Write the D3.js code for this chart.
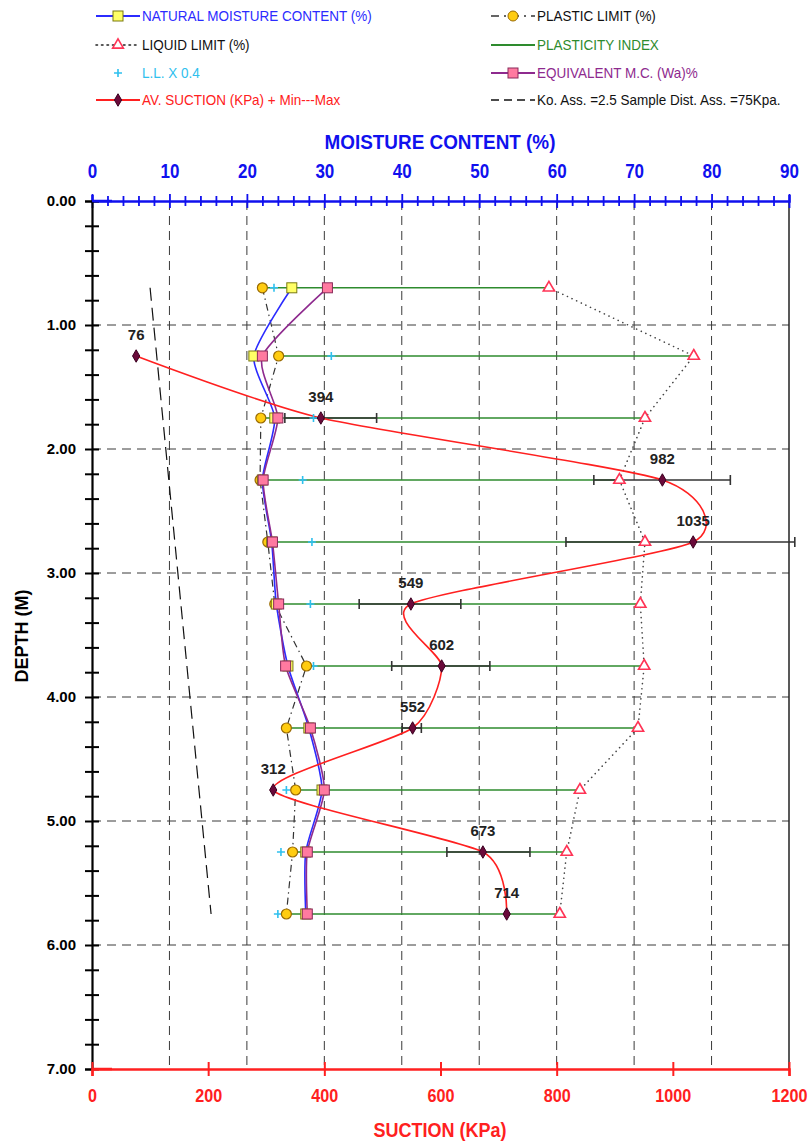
<!DOCTYPE html>
<html>
<head>
<meta charset="utf-8">
<script src="https://cdn.jsdelivr.net/npm/d3@7/dist/d3.min.js"></script>
<style>
  html, body { margin: 0; padding: 0; background: #fff; }
  svg { display: block; }
  text { font-family: "Liberation Sans", Arial, sans-serif; }
</style>
</head>
<body>
<svg id="chart" width="811" height="1142"></svg>
<script>
// ---- data ----
const depths = [0.7, 1.25, 1.75, 2.25, 2.75, 3.25, 3.75, 4.25, 4.75, 5.25, 5.75];
const naturalMC = [25.8, 20.9, 23.6, 22.0, 23.2, 23.8, 25.3, 28.0, 29.7, 27.6, 27.6];
const plasticLimit = [22.0, 24.1, 21.8, 21.7, 22.7, 23.6, 27.7, 25.1, 26.3, 25.9, 25.1];
const liquidLimit = [59.0, 77.7, 71.4, 68.1, 71.4, 70.8, 71.3, 70.5, 63.0, 61.3, 60.4];
const llTimes04 = [23.5, 30.9, 28.6, 27.2, 28.4, 28.2, 28.6, 28.2, 25.1, 24.4, 24.0];
const equivalentMC = [30.4, 22.0, 24.0, 22.1, 23.3, 24.1, 25.0, 28.2, 30.0, 27.8, 27.8];

const suctionDepths = [1.25, 1.75, 2.25, 2.75, 3.25, 3.75, 4.25, 4.75, 5.25, 5.75];
const suctionAvg = [76, 394, 982, 1035, 549, 602, 552, 312, 673, 714];
const suctionMin = [76, 332, 864, 816, 460, 516, 534, 312, 611, 714];
const suctionMax = [76, 490, 1099, 1210, 635, 685, 567, 312, 754, 714];

const koDepths = [0.7, 5.75];
const koSuction = [100, 205];

const moistureTicks = [0, 10, 20, 30, 40, 50, 60, 70, 80, 90];
const suctionTicks = [0, 200, 400, 600, 800, 1000, 1200];
const depthTicks = [0, 1, 2, 3, 4, 5, 6, 7];

// ---- layout ----
const L = 92, R = 789, T = 201, B = 1069;
const svg = d3.select("#chart");

const xM = d3.scaleLinear().domain([0, 90]).range([L, R]);
const xS = d3.scaleLinear().domain([0, 1200]).range([L, R]);
const y = d3.scaleLinear().domain([0, 7]).range([T, B]);

const C = {
  blue: "#2b2bff", axisBlue: "#1010ee", red: "#ff2020", green: "#2e8b2e",
  purple: "#8e2a8e", cyan: "#2fc0ee", grid: "#3a3a3a"
};

// horizontally condensed text (narrow face look)
function squeeze(sel, sx) {
  sel.each(function () {
    const t = d3.select(this);
    const x = +t.attr("x") || 0, yy = +t.attr("y") || 0;
    t.attr("x", 0).attr("y", 0).attr("transform", `translate(${x},${yy}) scale(${sx},1)`);
  });
}

// ---- grid ----
const grid = svg.append("g");
grid.selectAll(".vg").data(d3.range(10, 90, 10)).join("line")
  .attr("x1", d => xM(d)).attr("x2", d => xM(d)).attr("y1", T).attr("y2", B)
  .attr("stroke", C.grid).attr("stroke-width", 1).attr("stroke-dasharray", "9,6");
grid.selectAll(".hg").data(d3.range(1, 7)).join("line")
  .attr("x1", L).attr("x2", R).attr("y1", d => y(d)).attr("y2", d => y(d))
  .attr("stroke", C.grid).attr("stroke-width", 1).attr("stroke-dasharray", "9,6");
svg.append("line").attr("x1", R).attr("x2", R).attr("y1", T).attr("y2", B)
  .attr("stroke", "#222").attr("stroke-width", 1.5);

// ---- Ko line ----
svg.append("path")
  .datum(koDepths.map((d, i) => [xS(koSuction[i]), y(d)]))
  .attr("d", d3.line()).attr("fill", "none")
  .attr("stroke", "#111").attr("stroke-width", 1.2).attr("stroke-dasharray", "13,7");

// ---- plasticity index bars ----
svg.selectAll(".pi").data(depths).join("line")
  .attr("x1", (d, i) => xM(plasticLimit[i])).attr("x2", (d, i) => xM(liquidLimit[i]))
  .attr("y1", d => y(d)).attr("y2", d => y(d))
  .attr("stroke", C.green).attr("stroke-width", 1.5);

// ---- liquid limit (dotted) and plastic limit (dash-dot) ----
const ptLine = d3.line();
svg.append("path")
  .datum(depths.map((d, i) => [xM(liquidLimit[i]), y(d)]))
  .attr("d", ptLine).attr("fill", "none").attr("stroke", "#444")
  .attr("stroke-width", 1.6).attr("stroke-dasharray", "0.1,5").attr("stroke-linecap", "round");
svg.append("path")
  .datum(depths.map((d, i) => [xM(plasticLimit[i]), y(d)]))
  .attr("d", ptLine).attr("fill", "none").attr("stroke", "#333")
  .attr("stroke-width", 1.2).attr("stroke-dasharray", "7,4,1.5,4");

// ---- natural MC and equivalent MC (smoothed) ----
const smooth = d3.line().curve(d3.curveCardinal.tension(0.35));
svg.append("path")
  .datum(depths.map((d, i) => [xM(naturalMC[i]), y(d)]))
  .attr("d", smooth).attr("fill", "none").attr("stroke", C.blue).attr("stroke-width", 1.6);
svg.append("path")
  .datum(depths.map((d, i) => [xM(equivalentMC[i]), y(d)]))
  .attr("d", smooth).attr("fill", "none").attr("stroke", C.purple).attr("stroke-width", 1.6);

// ---- suction min/max bars ----
const eb = svg.append("g").attr("stroke", "#333").attr("stroke-width", 1.6);
suctionDepths.forEach((d, i) => {
  if (suctionMax[i] === suctionMin[i]) return;
  const yy = y(d);
  eb.append("line").attr("x1", xS(suctionMin[i])).attr("x2", xS(suctionMax[i])).attr("y1", yy).attr("y2", yy);
  [suctionMin[i], suctionMax[i]].forEach(v => {
    eb.append("line").attr("x1", xS(v)).attr("x2", xS(v)).attr("y1", yy - 5).attr("y2", yy + 5);
  });
});

// ---- suction curve ----
svg.append("path")
  .datum(suctionDepths.map((d, i) => [xS(suctionAvg[i]), y(d)]))
  .attr("d", smooth).attr("fill", "none").attr("stroke", C.red).attr("stroke-width", 1.6);

// ---- markers ----
const sym = (type, size) => d3.symbol().type(type).size(size)();
// L.L. x 0.4
svg.selectAll(".plus").data(depths).join("path")
  .attr("transform", (d, i) => `translate(${xM(llTimes04[i])},${y(d)})`)
  .attr("d", "M-4,0H4M0,-4V4").attr("stroke", C.cyan).attr("stroke-width", 1.6);
// plastic limit circles
svg.selectAll(".pl").data(depths).join("circle")
  .attr("cx", (d, i) => xM(plasticLimit[i])).attr("cy", d => y(d)).attr("r", 5)
  .attr("fill", "#ffcc11").attr("stroke", "#9a6a00").attr("stroke-width", 1.2);
// liquid limit triangles
svg.selectAll(".ll").data(depths).join("path")
  .attr("transform", (d, i) => `translate(${xM(liquidLimit[i])},${y(d)})`)
  .attr("d", sym(d3.symbolTriangle, 55))
  .attr("fill", "#fff").attr("stroke", "#ff3355").attr("stroke-width", 1.6);
// natural MC squares
svg.selectAll(".nm").data(depths).join("rect")
  .attr("x", (d, i) => xM(naturalMC[i]) - 5).attr("y", d => y(d) - 5)
  .attr("width", 10).attr("height", 10)
  .attr("fill", "#ffff66").attr("stroke", "#7a7a10").attr("stroke-width", 1);
// equivalent MC squares
svg.selectAll(".wa").data(depths).join("rect")
  .attr("x", (d, i) => xM(equivalentMC[i]) - 5).attr("y", d => y(d) - 5)
  .attr("width", 10).attr("height", 10)
  .attr("fill", "#ff7aa0").attr("stroke", "#8a2a5a").attr("stroke-width", 1);
// suction diamonds
svg.selectAll(".sd").data(suctionDepths).join("path")
  .attr("transform", (d, i) => `translate(${xS(suctionAvg[i])},${y(d)})`)
  .attr("d", sym(d3.symbolDiamond, 45))
  .attr("fill", "#6a0a3a").attr("stroke", "#3a0020").attr("stroke-width", 1);
// suction value labels
svg.selectAll(".sl").data(suctionDepths).join("text")
  .attr("x", (d, i) => xS(suctionAvg[i])).attr("y", d => y(d) - 16)
  .attr("text-anchor", "middle")
  .attr("font-weight", "bold").attr("font-size", 15).attr("fill", "#222")
  .text((d, i) => suctionAvg[i]);

// ---- axes ----
// top: moisture content
const topAx = svg.append("g").attr("transform", `translate(0,${T})`)
  .call(d3.axisTop(xM).tickValues(d3.range(0, 90.01, 2)).tickSize(6)
    .tickFormat(d => (moistureTicks.includes(d) ? d : "")));
topAx.select(".domain").attr("stroke", C.axisBlue).attr("stroke-width", 2.5);
topAx.selectAll(".tick line").attr("stroke", C.axisBlue).attr("stroke-width", 1.8)
  .attr("y1", d => (d % 10 === 0 ? 7 : 5)).attr("y2", d => (d % 10 === 0 ? -7 : -5));
topAx.selectAll(".tick text").attr("y", -23).attr("font-family", null)
  .attr("font-size", 20).attr("font-weight", "bold").attr("fill", C.axisBlue)
  .attr("transform", "scale(0.85,1)");

// left: depth
const leftAx = svg.append("g").attr("transform", `translate(${L},0)`)
  .call(d3.axisLeft(y).tickValues(d3.range(0, 7.001, 0.2)).tickSize(7)
    .tickFormat(d => {
      const r = Math.round(d);
      return (Math.abs(d - r) < 1e-6 && depthTicks.includes(r)) ? d3.format(".2f")(r) : "";
    }));
leftAx.select(".domain").attr("stroke", "#000").attr("stroke-width", 2.2);
leftAx.selectAll(".tick line").attr("stroke", "#000").attr("stroke-width", 2).attr("x1", 7);
leftAx.selectAll(".tick text").attr("x", -16)
  .attr("font-family", "'DejaVu Sans', Verdana, sans-serif")
  .attr("font-size", 15).attr("font-weight", "bold").attr("fill", "#000");

// bottom: suction
const botAx = svg.append("g").attr("transform", `translate(0,${B})`)
  .call(d3.axisBottom(xS).tickValues(suctionTicks).tickSize(7).tickFormat(d3.format("d")));
botAx.select(".domain").attr("stroke", C.red).attr("stroke-width", 2.5);
botAx.selectAll(".tick line").attr("stroke", C.red).attr("stroke-width", 2).attr("y1", -7);
botAx.selectAll(".tick text").attr("y", 20).attr("font-family", null)
  .attr("font-size", 19).attr("font-weight", "bold").attr("fill", C.red)
  .attr("transform", "scale(0.85,1)");
// axis line ends drawn over the depth axis
svg.append("line").attr("x1", L).attr("x2", L + 20).attr("y1", T).attr("y2", T)
  .attr("stroke", C.axisBlue).attr("stroke-width", 2.5);
svg.append("line").attr("x1", L).attr("x2", L + 20).attr("y1", B).attr("y2", B)
  .attr("stroke", C.red).attr("stroke-width", 2.5);

// axis titles
svg.append("text").attr("x", 440).attr("y", 149)
  .attr("text-anchor", "middle").attr("font-size", 21).attr("font-weight", "bold")
  .attr("fill", C.axisBlue).text("MOISTURE CONTENT (%)").call(squeeze, 0.9);
svg.append("text").attr("x", 440).attr("y", 1137)
  .attr("text-anchor", "middle").attr("font-size", 20).attr("font-weight", "bold")
  .attr("fill", C.red).text("SUCTION (KPa)").call(squeeze, 0.9);
svg.append("text")
  .attr("transform", "translate(28,636) rotate(-90)")
  .attr("text-anchor", "middle").attr("font-size", 18).attr("font-weight", "bold")
  .attr("fill", "#000").text("DEPTH (M)");

// ---- legend ----
const legend = [
  { col: 0, row: 0, text: "NATURAL MOISTURE CONTENT (%)", color: C.blue, line: C.blue, dash: null, mark: "sqY" },
  { col: 0, row: 1, text: "LIQUID LIMIT (%)", color: "#111", line: "#222", dash: "1.5,4", mark: "tri" },
  { col: 0, row: 2, text: "L.L. X 0.4", color: C.cyan, line: null, dash: null, mark: "plus" },
  { col: 0, row: 3, text: "AV. SUCTION (KPa) + Min---Max", color: C.red, line: C.red, dash: null, mark: "dia" },
  { col: 1, row: 0, text: "PLASTIC LIMIT (%)", color: "#111", line: "#333", dash: "8,5,2,5", mark: "circ" },
  { col: 1, row: 1, text: "PLASTICITY INDEX", color: C.green, line: C.green, dash: null, mark: null },
  { col: 1, row: 2, text: "EQUIVALENT M.C. (Wa)%", color: C.purple, line: C.purple, dash: null, mark: "sqP" },
  { col: 1, row: 3, text: "Ko.  Ass. =2.5  Sample Dist. Ass. =75Kpa.", color: "#111", line: "#111", dash: "8,5", mark: null }
];
const colX = [96, 491], rowY = [16, 45, 73, 100];
const lg = svg.append("g");
legend.forEach(e => {
  const x0 = colX[e.col], yy = rowY[e.row], xm = x0 + 22;
  const g = lg.append("g");
  if (e.line) {
    g.append("line").attr("x1", x0).attr("x2", x0 + 44).attr("y1", yy).attr("y2", yy)
      .attr("stroke", e.line).attr("stroke-width", e.dash ? 1.6 : 1.8)
      .attr("stroke-dasharray", e.dash).attr("stroke-linecap", e.dash === "1.5,4" ? "round" : null);
  }
  if (e.mark === "sqY") g.append("rect").attr("x", xm - 5).attr("y", yy - 5).attr("width", 10).attr("height", 10)
    .attr("fill", "#ffff66").attr("stroke", "#7a7a10");
  if (e.mark === "sqP") g.append("rect").attr("x", xm - 5).attr("y", yy - 5).attr("width", 10).attr("height", 10)
    .attr("fill", "#ff7aa0").attr("stroke", "#8a2a5a");
  if (e.mark === "circ") g.append("circle").attr("cx", xm).attr("cy", yy).attr("r", 5)
    .attr("fill", "#ffcc11").attr("stroke", "#9a6a00");
  if (e.mark === "tri") g.append("path").attr("transform", `translate(${xm},${yy})`)
    .attr("d", sym(d3.symbolTriangle, 50)).attr("fill", "#fff").attr("stroke", "#ff3355").attr("stroke-width", 1.6);
  if (e.mark === "plus") g.append("path").attr("transform", `translate(${xm},${yy})`)
    .attr("d", "M-4,0H4M0,-4V4").attr("stroke", C.cyan).attr("stroke-width", 1.6);
  if (e.mark === "dia") g.append("path").attr("transform", `translate(${xm},${yy})`)
    .attr("d", sym(d3.symbolDiamond, 45)).attr("fill", "#6a0a3a").attr("stroke", "#3a0020");
  g.append("text").attr("x", x0 + 46).attr("y", yy + 5)
    .attr("font-size", 15).attr("fill", e.color).text(e.text).call(squeeze, 0.9);
});
</script>
</body>
</html>
